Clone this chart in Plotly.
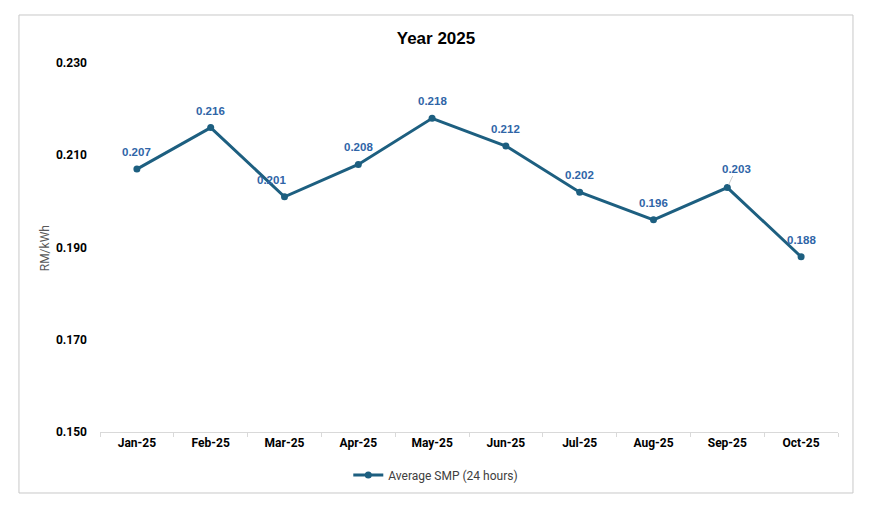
import plotly.graph_objects as go

months = ["Jan-25", "Feb-25", "Mar-25", "Apr-25", "May-25", "Jun-25",
          "Jul-25", "Aug-25", "Sep-25", "Oct-25"]
smp = [0.207, 0.216, 0.201, 0.208, 0.218, 0.212, 0.202, 0.196, 0.203, 0.188]
y_ticks = [0.150, 0.170, 0.190, 0.210, 0.230]
series_name = "Average SMP (24 hours)"

# label offsets (pixels) per point
label_dx = [0, 0, -13, 0, 0, 0, 0, 0, 9, 0]

LINE = "#1D5F80"
LABEL = "#2F65A7"
TICKFONT = "Roboto"

fig = go.Figure()
fig.add_trace(go.Scatter(
    x=months, y=smp, mode="lines+markers", name=series_name,
    line=dict(color=LINE, width=3),
    marker=dict(color=LINE, size=7),
))

for i, (m, v) in enumerate(zip(months, smp)):
    if i == 8:
        fig.add_annotation(x=m, y=v, text=f"<b>{v:.3f}</b>", showarrow=True,
                           ax=label_dx[i], ay=-19, arrowhead=0, arrowwidth=0.8,
                           arrowcolor="#BFBFBF", standoff=3,
                           font=dict(family="Liberation Sans", size=11.5, color=LABEL))
    else:
        fig.add_annotation(x=m, y=v, text=f"<b>{v:.3f}</b>", showarrow=False,
                           xshift=label_dx[i], yshift=17,
                           font=dict(family="Liberation Sans", size=11.5, color=LABEL))

# y axis title
fig.add_annotation(xref="paper", yref="paper", x=-0.0745, y=0.498, text="RM/kWh",
                   xanchor="center", yanchor="middle",
                   textangle=-90, showarrow=False,
                   font=dict(family=TICKFONT, size=12, color="#595959"))

# outer chart border
fig.add_shape(type="rect", xref="paper", yref="paper",
              x0=-0.1098, x1=1.0203, y0=-0.1653, y1=1.1301,
              line=dict(color="#C8C8C8", width=1), layer="below")

fig.update_layout(
    width=873, height=517,
    margin=dict(l=100, r=35, t=63, b=85),
    paper_bgcolor="white", plot_bgcolor="white",
    title=dict(text="<b>Year 2025</b>", x=0.4553, xref="paper", xanchor="center",
               y=1 - 38 / 517, yanchor="middle",
               font=dict(family="Liberation Sans", size=17, color="black")),
    showlegend=True,
    legend=dict(orientation="h", x=0.455, xanchor="center", y=-0.1165, yanchor="middle",
                font=dict(family=TICKFONT, size=12, color="#404040"),
                itemwidth=30),
    xaxis=dict(type="category", range=[-0.5, len(months) - 0.5], autorange=False,
               showgrid=False, showline=True, linecolor="#D9D9D9",
               linewidth=1, ticks="outside", tickson="boundaries", ticklen=4,
               tickcolor="#D9D9D9",
               tickfont=dict(family=TICKFONT, size=12, color="black", weight="bold")),
    yaxis=dict(range=[0.150, 0.230], tickvals=y_ticks,
               ticktext=[f"{t:.3f}" for t in y_ticks],
               showgrid=False, zeroline=False, showline=False, ticks="",
               ticklabelstandoff=12,
               tickfont=dict(family=TICKFONT, size=12, color="black", weight="bold")),
)

fig.write_html("out.html", post_script="document.body.style.margin='0';",
               config={"displayModeBar": False})
